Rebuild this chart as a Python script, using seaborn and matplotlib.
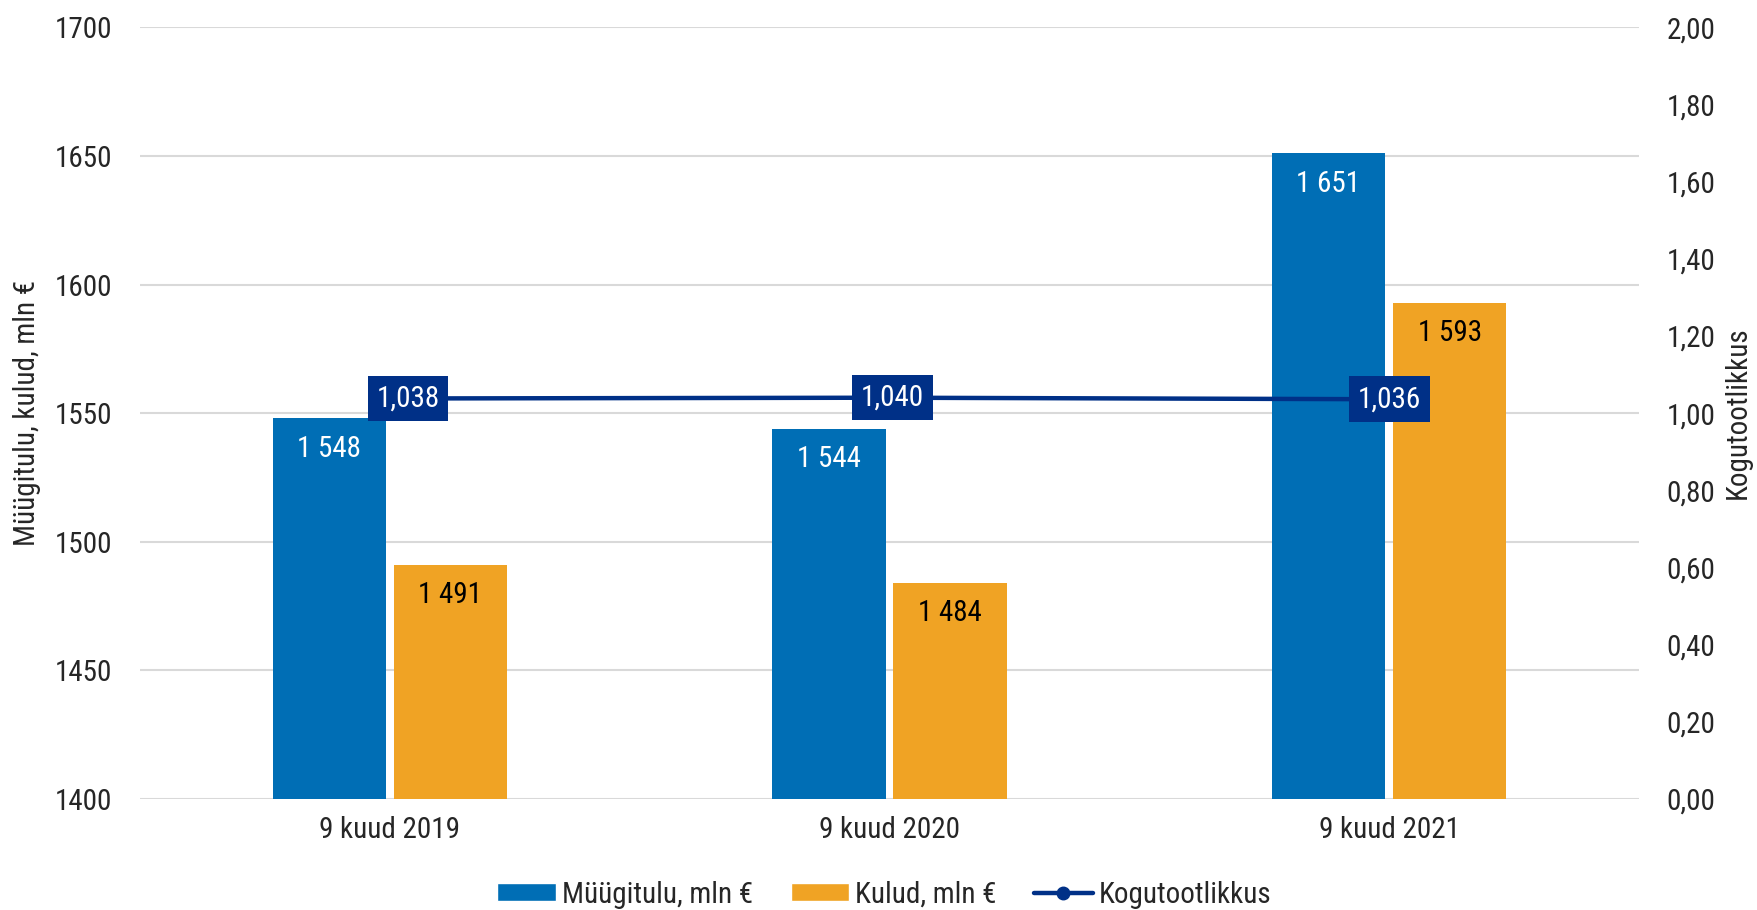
import numpy as np
import pandas as pd
import matplotlib
matplotlib.use("Agg")
import matplotlib.pyplot as plt
import seaborn as sns
from matplotlib.lines import Line2D
from matplotlib.patches import Patch

# data
periods = ["9 kuud 2019", "9 kuud 2020", "9 kuud 2021"]
revenue = [1548, 1544, 1651]
costs = [1491, 1484, 1593]
productivity = [1.038, 1.040, 1.036]

rev_name = "Müügitulu, mln €"
cost_name = "Kulud, mln €"
prod_name = "Kogutootlikkus"

blue = "#006EB5"
orange = "#F0A324"
navy = "#003087"
# small horizontal nudge (points) of the productivity labels, as in the original
label_nudge = [13, 2, 0]

sns.set_style("white")
plt.rcParams["font.family"] = ["Roboto Condensed", "Roboto", "DejaVu Sans"]
FS = 21

df = pd.DataFrame({
    "period": periods * 2,
    "value": revenue + costs,
    "series": [rev_name] * len(periods) + [cost_name] * len(periods),
})

fig = plt.figure(figsize=(17.58, 9.10), dpi=100)
ax = fig.add_axes([0.0796, 0.122, 0.8527, 0.848])

sns.barplot(data=df, x="period", y="value", hue="series",
            palette={rev_name: blue, cost_name: orange}, saturation=1,
            width=0.485, gap=0.065, linewidth=0, legend=False, ax=ax)

ax.set_ylim(1400, 1700)
ax.set_yticks(np.arange(1400, 1701, 50))
ax.yaxis.grid(True, color="#D9D9D9", lw=1.5)
ax.set_axisbelow(True)
ax.set_xlabel("")
ax.set_ylabel("Müügitulu, kulud, mln €", fontsize=FS, labelpad=10)
ax.tick_params(axis="both", length=0, labelsize=FS)
ax.tick_params(axis="y", pad=20)
ax.tick_params(axis="x", pad=12)
for s in ax.spines.values():
    s.set_visible(False)

# bar value labels inside the top of the bars
for cont, tcol in zip(ax.containers, ["white", "black"]):
    for bar in cont:
        h = bar.get_height()
        ax.annotate(f"{h:,.0f}".replace(",", " "),
                    (bar.get_x() + bar.get_width() / 2, h),
                    xytext=(0, -22), textcoords="offset points",
                    ha="center", va="center", fontsize=FS, color=tcol)

ax2 = ax.twinx()
xpos = np.arange(len(periods))
sns.lineplot(x=xpos, y=productivity, ax=ax2, color=navy, lw=3.2,
             marker="o", markersize=9, legend=False)
ax2.set_ylim(0, 2)
ticks2 = np.arange(0, 2.01, 0.2)
ax2.set_yticks(ticks2)
ax2.set_yticklabels([f"{v:.2f}".replace(".", ",") for v in ticks2])
ax2.set_ylabel(prod_name, fontsize=FS, labelpad=6)
ax2.tick_params(axis="y", length=0, labelsize=FS, pad=20)
for s in ax2.spines.values():
    s.set_visible(False)
ax.set_xlim(-0.5, len(periods) - 0.5)

for x, v, dx in zip(xpos, productivity, label_nudge):
    ax2.annotate(f"{v:.3f}".replace(".", ","), (x, v), xytext=(dx, 0),
                 textcoords="offset points", ha="center", va="center",
                 fontsize=FS, color="white", zorder=5,
                 bbox=dict(boxstyle="square,pad=0.3", fc=navy, ec="none"))

handles = [
    Patch(facecolor=blue, label=rev_name),
    Patch(facecolor=orange, label=cost_name),
    Line2D([], [], color=navy, lw=3.2, marker="o", markersize=9, label=prod_name),
]
fig.legend(handles=handles, loc="center", bbox_to_anchor=(0.503, 0.017),
           ncol=3, frameon=False, fontsize=FS, handlelength=2.0,
           handleheight=0.55, handletextpad=0.2, columnspacing=1.3)

fig.savefig("out.png", dpi=100)
